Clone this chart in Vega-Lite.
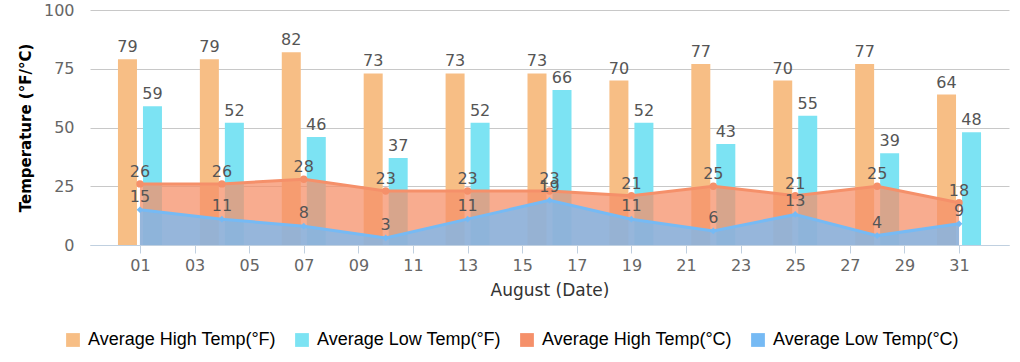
{
  "$schema": "https://vega.github.io/schema/vega-lite/v6.json",
  "width": 919,
  "height": 235,
  "autosize": {"type": "none"},
  "padding": {"left": 90, "top": 10, "right": 11, "bottom": 117},
  "background": "white",
  "config": {
    "view": {"stroke": null},
    "font": "DejaVu Sans",
    "legend": {"symbolOpacity": 1}
  },
  "data": {
    "values": [
      {"day": 1, "hiF": 79, "loF": 59, "hiC": 26, "loC": 15},
      {"day": 4, "hiF": 79, "loF": 52, "hiC": 26, "loC": 11},
      {"day": 7, "hiF": 82, "loF": 46, "hiC": 28, "loC": 8},
      {"day": 10, "hiF": 73, "loF": 37, "hiC": 23, "loC": 3},
      {"day": 13, "hiF": 73, "loF": 52, "hiC": 23, "loC": 11},
      {"day": 16, "hiF": 73, "loF": 66, "hiC": 23, "loC": 19},
      {"day": 19, "hiF": 70, "loF": 52, "hiC": 21, "loC": 11},
      {"day": 22, "hiF": 77, "loF": 43, "hiC": 25, "loC": 6},
      {"day": 25, "hiF": 70, "loF": 55, "hiC": 21, "loC": 13},
      {"day": 28, "hiF": 77, "loF": 39, "hiC": 25, "loC": 4},
      {"day": 31, "hiF": 64, "loF": 48, "hiC": 18, "loC": 9}
    ]
  },
  "encoding": {
    "x": {
      "field": "day",
      "type": "quantitative",
      "scale": {"domain": [-0.83, 32.83], "nice": false, "zero": false, "padding": 0},
      "axis": {
        "title": "August (Date)",
        "titleFont": "DejaVu Sans",
        "titleFontSize": 17,
        "titleFontWeight": "normal",
        "titleColor": "#333333",
        "titlePadding": 9,
        "values": [1, 3, 5, 7, 9, 11, 13, 15, 17, 19, 21, 23, 25, 27, 29, 31],
        "format": "02d",
        "labelFont": "DejaVu Sans",
        "labelFontSize": 16,
        "labelColor": "#666666",
        "labelPadding": 4,
        "tickSize": 8,
        "tickColor": "#C0D0E0",
        "domainColor": "#C0D0E0",
        "grid": false
      }
    }
  },
  "layer": [
    {
      "mark": {"type": "bar", "width": 19, "xOffset": -12.5},
      "encoding": {
        "y": {
          "field": "hiF",
          "type": "quantitative",
          "scale": {"domain": [0, 100], "nice": false},
          "axis": {
            "title": "Temperature (°F/°C)",
            "titleFont": "DejaVu Sans",
            "titleFontSize": 15,
            "titleFontWeight": "bold",
            "titleColor": "#000000",
            "titlePadding": 10,
            "values": [0, 25, 50, 75, 100],
            "labelFont": "DejaVu Sans",
            "labelFontSize": 16,
            "labelColor": "#666666",
            "labelPadding": 16,
            "ticks": false,
            "domain": false,
            "gridColor": "#C8C8C8"
          }
        },
        "color": {
          "datum": "Average High Temp(°F)",
          "type": "nominal",
          "scale": {
            "domain": ["Average High Temp(°F)", "Average Low Temp(°F)", "Average High Temp(°C)", "Average Low Temp(°C)"],
            "range": ["#F7BE85", "#7CE3F3", "#F5906A", "#76BAF4"]
          },
          "legend": {
            "title": null,
            "orient": "none",
            "direction": "horizontal",
            "legendX": -26,
            "legendY": 321,
            "symbolType": "square",
            "symbolSize": 190,
            "symbolStrokeWidth": 0,
            "labelFont": "Liberation Sans",
            "labelFontSize": 18,
            "labelColor": "#000000",
            "labelOffset": 6,
            "columnPadding": 17,
            "labelLimit": 400
          }
        }
      }
    },
    {
      "mark": {"type": "bar", "width": 19, "xOffset": 12.5},
      "encoding": {
        "y": {"field": "loF", "type": "quantitative"},
        "color": {"datum": "Average Low Temp(°F)", "type": "nominal"}
      }
    },
    {
      "mark": {"type": "area", "fillOpacity": 0.75},
      "encoding": {
        "y": {"field": "hiC", "type": "quantitative"},
        "color": {"datum": "Average High Temp(°C)", "type": "nominal"}
      }
    },
    {
      "mark": {"type": "line", "strokeWidth": 3},
      "encoding": {
        "y": {"field": "hiC", "type": "quantitative"},
        "color": {"datum": "Average High Temp(°C)", "type": "nominal"}
      }
    },
    {
      "mark": {"type": "point", "shape": "circle", "filled": true, "size": 55, "opacity": 1},
      "encoding": {
        "y": {"field": "hiC", "type": "quantitative"},
        "color": {"datum": "Average High Temp(°C)", "type": "nominal"}
      }
    },
    {
      "mark": {"type": "area", "fillOpacity": 0.75},
      "encoding": {
        "y": {"field": "loC", "type": "quantitative"},
        "color": {"datum": "Average Low Temp(°C)", "type": "nominal"}
      }
    },
    {
      "mark": {"type": "line", "strokeWidth": 3},
      "encoding": {
        "y": {"field": "loC", "type": "quantitative"},
        "color": {"datum": "Average Low Temp(°C)", "type": "nominal"}
      }
    },
    {
      "mark": {"type": "point", "shape": "diamond", "filled": true, "size": 45, "opacity": 1},
      "encoding": {
        "y": {"field": "loC", "type": "quantitative"},
        "color": {"datum": "Average Low Temp(°C)", "type": "nominal"}
      }
    },
    {
      "mark": {"type": "text", "xOffset": -12.5, "dy": -7, "baseline": "alphabetic", "fontSize": 16, "color": "#555555", "font": "DejaVu Sans"},
      "encoding": {"y": {"field": "hiF", "type": "quantitative"}, "text": {"field": "hiF", "type": "quantitative"}}
    },
    {
      "mark": {"type": "text", "xOffset": 12.5, "dy": -7, "baseline": "alphabetic", "fontSize": 16, "color": "#555555", "font": "DejaVu Sans"},
      "encoding": {"y": {"field": "loF", "type": "quantitative"}, "text": {"field": "loF", "type": "quantitative"}}
    },
    {
      "mark": {"type": "text", "dy": -7, "baseline": "alphabetic", "fontSize": 16, "color": "#555555", "font": "DejaVu Sans"},
      "encoding": {"y": {"field": "hiC", "type": "quantitative"}, "text": {"field": "hiC", "type": "quantitative"}}
    },
    {
      "mark": {"type": "text", "dy": -8, "baseline": "alphabetic", "fontSize": 16, "color": "#555555", "font": "DejaVu Sans"},
      "encoding": {"y": {"field": "loC", "type": "quantitative"}, "text": {"field": "loC", "type": "quantitative"}}
    }
  ]
}
